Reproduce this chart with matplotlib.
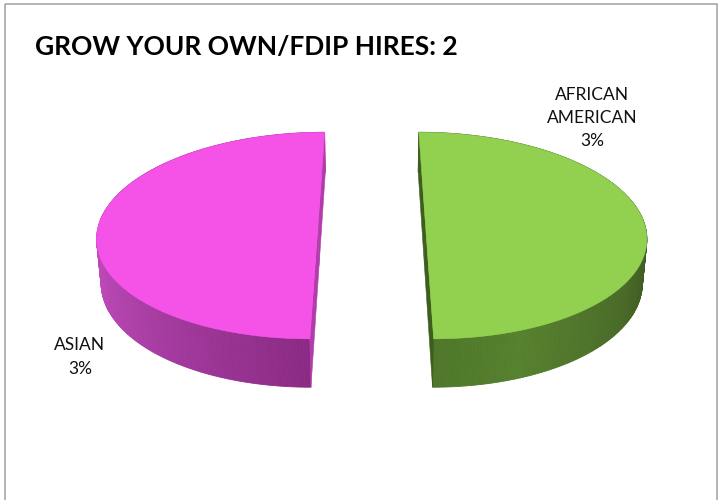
import numpy as np
import matplotlib
matplotlib.use("Agg")
import matplotlib.pyplot as plt
from matplotlib.patches import Polygon, Rectangle
from matplotlib.colors import to_rgb

# --- DATA ---
TITLE = "GROW YOUR OWN/FDIP HIRES: 2"
categories = ["AFRICAN AMERICAN", "ASIAN"]
hires = [1, 1]
share_labels = ["3%", "3%"]

# --- STYLE ---
top_colors = ["#92D050", "#F553E8"]
# side wall colour stops: (angle in degrees, colour)
wall_stops = [
    [(270, "#4E772A"), (290, "#56812E"), (360, "#3A5220")],
    [(180, "#CB52C6"), (270, "#8A2A84")],
]
cut_colors = ["#3E5E1D", "#B23CAB"]
label_pos = [(592, 118), (80, 357)]

# camera / pie geometry (screen pixels, y pointing down)
TILT = np.radians(27.65)
DIST = 6.51
FOCAL = 1422.0
CX, CY = 371.75, 221.5
EXPLODE = 0.245
THICK = 0.23


def project(X, Y, Z):
    X, Y, Z = np.asarray(X, float), np.asarray(Y, float), np.asarray(Z, float)
    yc = Y * np.cos(TILT) + Z * np.sin(TILT)
    zc = -Y * np.sin(TILT) + Z * np.cos(TILT) + DIST
    return CX + FOCAL * X / zc, CY - FOCAL * yc / zc


def wall_color(stops, ang):
    ang = ang % 360
    angs = np.array([s[0] for s in stops], float)
    cols = np.array([to_rgb(s[1]) for s in stops])
    # unwrap so that 0 deg counts as 360 for the right-hand slice
    if ang < angs[0] - 1e-9:
        ang += 360
    ang = np.clip(ang, angs[0], angs[-1])
    return tuple(np.interp(ang, angs, cols[:, k]) for k in range(3))


fig = plt.figure(figsize=(7.21, 5.0), dpi=100)
ax = fig.add_axes([0, 0, 1, 1])
ax.set_xlim(0, 721)
ax.set_ylim(500, 0)
ax.axis("off")

ax.add_patch(Rectangle((5, 4), 712, 520, fill=False, edgecolor="#a0a0a0", lw=1.1))
ax.text(35, 47, TITLE, fontsize=19, fontweight="bold", family="Lato",
        va="center", ha="left", color="#000000")

# slices run clockwise from 12 o'clock
fracs = np.array(hires, float) / np.sum(hires)
starts = 90 - 360 * np.concatenate([[0], np.cumsum(fracs)[:-1]])
ends = starts - 360 * fracs

for i in range(len(hires)):
    a0, a1 = starts[i], ends[i]
    mid = np.radians((a0 + a1) / 2)
    ex, ez = EXPLODE * np.cos(mid), EXPLODE * np.sin(mid)
    phi = np.radians(np.linspace(a0, a1, 240))
    rx, rz = ex + np.cos(phi), ez + np.sin(phi)

    # outer wall, drawn far-to-near as thin quads
    quads = []
    for k in range(len(phi) - 1):
        xs = [rx[k], rx[k + 1], rx[k + 1], rx[k]]
        ys = [0, 0, -THICK, -THICK]
        zs = [rz[k], rz[k + 1], rz[k + 1], rz[k]]
        sx, sy = project(xs, ys, zs)
        depth = (rz[k] + rz[k + 1]) / 2
        col = wall_color(wall_stops[i], np.degrees((phi[k] + phi[k + 1]) / 2))
        quads.append((depth, np.column_stack([sx, sy]), col))
    for depth, pts, col in sorted(quads, key=lambda q: -q[0]):
        ax.add_patch(Polygon(pts, closed=True, facecolor=col, edgecolor=col, lw=0.6))

    # cut faces along both radial edges
    for ang in (phi[0], phi[-1]):
        xs = [ex, ex + np.cos(ang), ex + np.cos(ang), ex]
        zs = [ez, ez + np.sin(ang), ez + np.sin(ang), ez]
        ys = [0, 0, -THICK, -THICK]
        sx, sy = project(xs, ys, zs)
        ax.add_patch(Polygon(np.column_stack([sx, sy]), closed=True,
                             facecolor=cut_colors[i], edgecolor=cut_colors[i], lw=0.4))

    # top face
    tx = np.concatenate([[ex], rx])
    tz = np.concatenate([[ez], rz])
    sx, sy = project(tx, np.zeros_like(tx), tz)
    ax.add_patch(Polygon(np.column_stack([sx, sy]), closed=True,
                         facecolor=top_colors[i], edgecolor=top_colors[i], lw=0.4))

    # data label
    name = categories[i].replace(" ", "\n")
    lx, ly = label_pos[i]
    ax.text(lx, ly, f"{name}\n{share_labels[i]}", fontsize=12.5, family="Lato",
            ha="center", va="center", linespacing=1.55, color="#111111")

fig.savefig("out.png", dpi=100)
